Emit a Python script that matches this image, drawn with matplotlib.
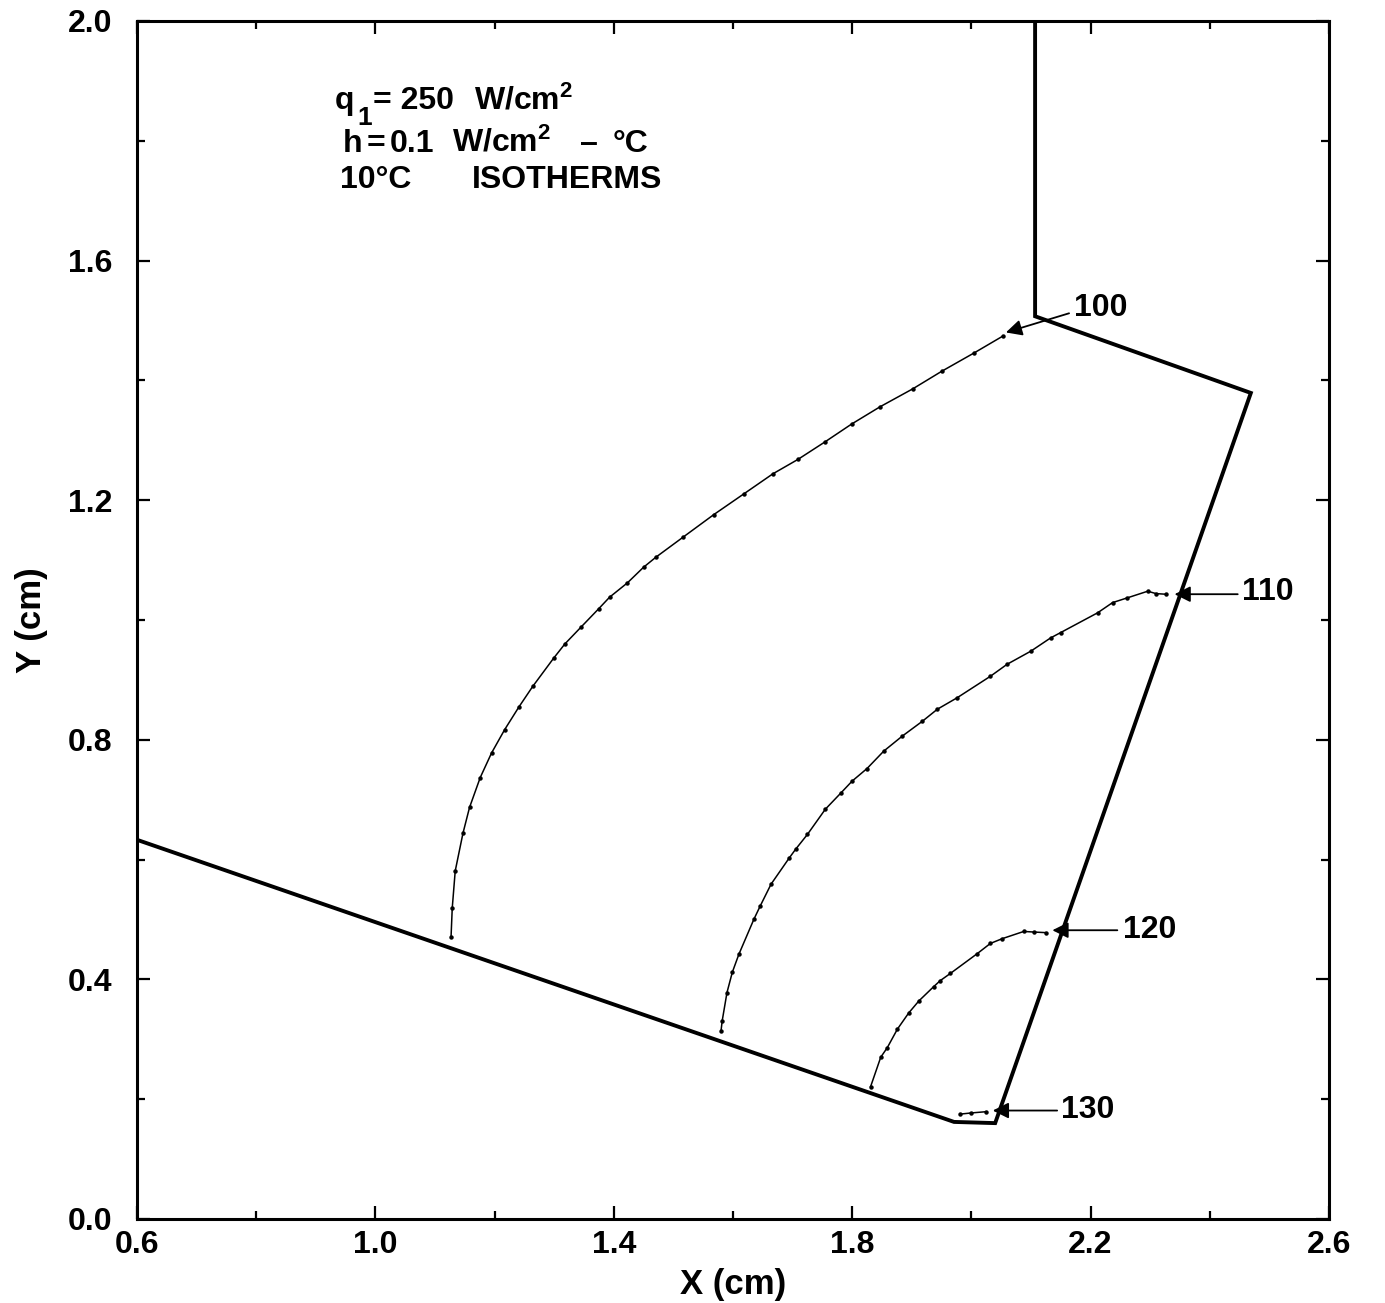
import matplotlib
matplotlib.use("Agg")
import matplotlib.pyplot as plt
from matplotlib.ticker import MultipleLocator

plt.rcParams['font.family'] = ['Liberation Sans', 'DejaVu Sans']
plt.rcParams['font.weight'] = 'bold'
plt.rcParams['axes.labelweight'] = 'bold'
plt.rcParams['mathtext.fontset'] = 'custom'
plt.rcParams['mathtext.rm'] = 'Liberation Sans:bold'
plt.rcParams['mathtext.it'] = 'Liberation Sans:bold'
plt.rcParams['mathtext.bf'] = 'Liberation Sans:bold'

# ---- data ----
boundary_x = [2.107, 2.107, 2.469, 2.040, 1.971, 0.600]
boundary_y = [2.000, 1.507, 1.379, 0.160, 0.162, 0.633]

iso100_x = [1.127, 1.129, 1.134, 1.147, 1.158, 1.176, 1.195, 1.217, 1.241, 1.264,
            1.299, 1.318, 1.345, 1.375, 1.393, 1.423, 1.450, 1.471, 1.516, 1.568,
            1.619, 1.667, 1.709, 1.754, 1.799, 1.847, 1.902, 1.950, 2.005, 2.053]
iso100_y = [0.471, 0.519, 0.581, 0.644, 0.687, 0.737, 0.778, 0.817, 0.855, 0.889,
            0.936, 0.960, 0.988, 1.019, 1.038, 1.062, 1.088, 1.105, 1.138, 1.176,
            1.211, 1.244, 1.268, 1.297, 1.327, 1.356, 1.386, 1.415, 1.446, 1.474]

iso110_x = [1.580, 1.582, 1.590, 1.599, 1.610, 1.635, 1.646, 1.664, 1.694, 1.705,
            1.725, 1.755, 1.781, 1.800, 1.825, 1.853, 1.884, 1.918, 1.943, 1.976,
            2.032, 2.060, 2.100, 2.133, 2.150, 2.212, 2.237, 2.262, 2.296, 2.310, 2.326]
iso110_y = [0.314, 0.331, 0.378, 0.412, 0.442, 0.500, 0.523, 0.559, 0.602, 0.617,
            0.642, 0.684, 0.711, 0.731, 0.752, 0.781, 0.806, 0.831, 0.851, 0.870,
            0.906, 0.926, 0.948, 0.970, 0.979, 1.012, 1.029, 1.037, 1.048, 1.044, 1.043]

iso120_x = [1.831, 1.848, 1.859, 1.876, 1.895, 1.912, 1.937, 1.948, 1.965, 2.010,
            2.032, 2.052, 2.088, 2.105, 2.125]
iso120_y = [0.221, 0.270, 0.286, 0.317, 0.344, 0.364, 0.388, 0.398, 0.410, 0.443,
            0.460, 0.468, 0.480, 0.479, 0.478]

iso130_x = [1.981, 2.000, 2.024]
iso130_y = [0.175, 0.177, 0.179]

iso_labels = ['100', '110', '120', '130']
label_x = [2.172, 2.455, 2.254, 2.150]
label_y = [1.520, 1.046, 0.482, 0.182]
arrow_start_x = [2.164, 2.447, 2.245, 2.144]
arrow_start_y = [1.512, 1.043, 0.482, 0.181]
arrow_tip_x = [2.058, 2.341, 2.136, 2.036]
arrow_tip_y = [1.480, 1.043, 0.482, 0.181]

# header annotation pieces: (text, x, baseline y, size)
note_text = ['q', '1', '= 250', r'W/cm$^\mathregular{2}$',
             'h', '=', '0.1', r'W/cm$^\mathregular{2}$', '\u2013', '°C',
             '10°C', 'ISOTHERMS']
note_x = [0.9325, 0.9694, 0.9963, 1.1650,
          0.9459, 0.9845, 1.0249, 1.1290, 1.3439, 1.3977,
          0.9409, 1.1626]
note_y = [1.853, 1.826, 1.853, 1.853,
          1.782, 1.782, 1.782, 1.782, 1.782, 1.782,
          1.721, 1.721]
note_size = [23, 19, 23, 23, 23, 23, 23, 23, 23, 23, 23, 23]

xticks = [0.6, 1.0, 1.4, 1.8, 2.2, 2.6]
yticks = [0.0, 0.4, 0.8, 1.2, 1.6, 2.0]

# ---- figure ----
fig = plt.figure(figsize=(13.85, 13.03), dpi=100)
ax = fig.add_axes([0.0989, 0.0645, 0.8606, 0.9194])
ax.set_xlim(0.6, 2.6)
ax.set_ylim(0.0, 2.0)

ax.plot(boundary_x, boundary_y, color='k', lw=2.8, solid_joinstyle='miter',
        solid_capstyle='butt', clip_on=False, zorder=3)

for xs, ys in [(iso100_x, iso100_y), (iso110_x, iso110_y),
               (iso120_x, iso120_y), (iso130_x, iso130_y)]:
    ax.plot(xs, ys, color='k', lw=1.1, marker='o', markersize=2.2, zorder=2)

for lab, lx, ly, sx, sy, tx, ty in zip(iso_labels, label_x, label_y,
                                        arrow_start_x, arrow_start_y,
                                        arrow_tip_x, arrow_tip_y):
    ax.annotate('', xy=(tx, ty), xytext=(sx, sy),
                arrowprops=dict(arrowstyle='-|>', color='k', lw=1.3,
                                mutation_scale=24, shrinkA=0, shrinkB=0))
    ax.text(lx, ly, lab, fontsize=23, ha='left', va='center')

for t, x, y, s in zip(note_text, note_x, note_y, note_size):
    ax.text(x, y, t, fontsize=s, ha='left', va='baseline')

ax.set_xticks(xticks)
ax.set_yticks(yticks)
ax.set_xticklabels([f'{v:.1f}' for v in xticks])
ax.set_yticklabels([f'{v:.1f}' for v in yticks])
ax.xaxis.set_minor_locator(MultipleLocator(0.2))
ax.yaxis.set_minor_locator(MultipleLocator(0.2))
ax.tick_params(which='both', direction='in', top=True, right=True, width=1.6,
               labelsize=23)
ax.tick_params(which='major', length=9.5)
ax.tick_params(which='minor', length=6)
ax.tick_params(axis='x', which='major', pad=8)
ax.tick_params(axis='y', which='major', pad=18)
for s in ax.spines.values():
    s.set_linewidth(2.2)

ax.set_xlabel('X (cm)', fontsize=25, labelpad=6)
ax.set_ylabel('Y (cm)', fontsize=25, labelpad=14)

fig.savefig('out.png', dpi=100)
